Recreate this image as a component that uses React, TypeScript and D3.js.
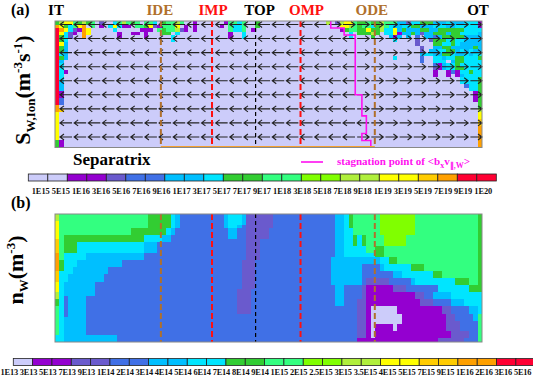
import React from "react";
import * as d3 from "d3";

// colour levels shared by both panels (index = level)
const palette = [
  "#ccccfa", "#9400d0", "#6a5acd", "#4070e6", "#00bfff", "#00e5ff", "#32cd32",
  "#33ff80", "#80ff00", "#b0ef3c", "#ffff00", "#ffcc00", "#ffa000", "#ff0033",
];

const barLevelsA = [0, 0, 1, 1, 2, 3, 3, 4, 4, 5, 6, 6, 7, 7, 8, 8, 9, 9, 10, 10, 11, 12, 13, 13];
const barLabelsA = [
  "1E15", "5E15", "1E16", "3E16", "5E16", "7E16", "9E16", "1E17", "3E17", "5E17", "7E17", "9E17",
  "1E18", "3E18", "5E18", "7E18", "9E18", "1E19", "3E19", "5E19", "7E19", "9E19", "1E20",
];
const barLevelsB = [0, 1, 1, 2, 2, 3, 3, 4, 4, 5, 5, 6, 6, 7, 7, 8, 8, 9, 9, 10, 10, 11, 11, 12, 12, 13, 13];
const barLabelsB = [
  "1E13", "3E13", "5E13", "7E13", "9E13", "1E14", "2E14", "3E14", "4E14", "5E14", "6E14", "7E14",
  "8E14", "9E14", "1E15", "2E15", "2.5E15", "3E15", "3.5E15", "4E15", "5E15", "7E15", "9E15",
  "1E16", "2E16", "3E16", "5E16",
];

// poloidal positions (cell index along the 96-cell grid)
const headers = [
  { name: "IT", col: 0, color: "#000" },
  { name: "IDE", col: 23.8, color: "#b0702c" },
  { name: "IMP", col: 35.3, color: "#ff1010" },
  { name: "TOP", col: 45.1, color: "#000" },
  { name: "OMP", col: 55.2, color: "#ff1010" },
  { name: "ODE", col: 71.9, color: "#b0702c" },
  { name: "OT", col: 96, color: "#000" },
];
const markerLines = ["IDE", "IMP", "TOP", "OMP", "ODE"];

// radial row -> cell where <b_x v_par,W> changes sign
const stagnationCol = [
  62, 62, 65, 65, 67.5, 67.5, 67.5, 67.5, 67.5, 67.5, 67.5, 67.5, 67.5, 67.5, 67.5, 67.5, 67.5,
  67.5, 67.5, 67.5, 67.5, 69, 69, 69, 69, 69, 69, 70, 70, 70, 70, 70, 69, 69, 71, 71,
];

// ionisation source level per cell, rows top -> bottom (hex digit = level, "v*n" = run)
const sourceRows = [
  "69aa76967020 057976707750 677970010000 001775700600 0*12 09029aa76676 697774425566 644454445551",
  "ca657ac07010 5a5110776a21 777a01010000 010755700600 0*12 0000aa976775 697544556644 455544555551",
  "dca521ca0000 050000011107 677921010000 000755701000 0*12 0000167766a6 6955a4644466 446666665555",
  "da5210ca0000 001001101000 660500000000 000100500000 0*12 000000506669 6055a1446424 466646655554",
  "d65200c00000 001000001000 005000000000 000100500000 0*12 000000500006 000414040304 434666664444",
  "d65000000000 0*12 005000000000 0*36 000050000200 266656554444",
  "da4000000000 0*60 000000000200 066556544444",
  "d64000000000 0*60 000000000020 044664444464",
  "d64000000000 0*60 000000000020 445566454544",
  "d54000000000 0*60 000000000045 544665445455",
  "d64000000000 0*60 000050000030 055455665556",
  "d40000000000 0*60 000000000030 055504665555",
  "d50000000000 0*72 031455655555",
  "d50000000000 0*72 021455665555",
  "d51000000000 0*72 010013155655",
  "d50000000000 0*72 010010145555",
  "d50000000000 0*72 000000055556",
  "d40000000000 0*72 000000055556",
  "d40000000000 0*72 000000003556",
  "d40000000000 0*72 000000000556",
  "d10000000000 0*72 000000000016",
  "d10000000000 0*72 000000000016",
  "d30000000000 0*72 000000000016",
  "d30000000000 0*72 000000000006",
  "c 0*94 6",
  "cb 0*93 9",
  "a 0*94 a",
  "a 0*94 a",
  "a 0*94 b",
  "a 0*94 b",
  "a 0*94 c",
  "a 0*94 c",
  "a 0*94 c",
  "a 0*94 c",
  "61 0*93 c",
  "61 0*93 c",
];

// W density level per cell
const densityRows = [
  "9 7*20 6*5 5 4 3*10 4 5*3 4 2*6 3*14 4*2 5 6 7*6 8*8 7*14 6",
  "9 7*20 6*5 5 4 3*10 4 5*3 4 2*6 3*14 4*2 5 6 7*6 8*8 7*14 6",
  "a 7*20 6*5 5 4 3*10 4 5*3 4 2*6 3*14 4*2 5 6 7*6 8*8 7*14 6",
  "a 7*20 6*5 5 4 3*10 4 5*2 4 3 2*6 3*14 4*2 5 6 7*6 8*8 7*14 6",
  "a 7*16 6*8 5 4 3*12 4*2 3*2 2*5 3*15 4*2 5*2 7*6 8*8 7*14 6",
  "a 7*16 6*8 5 4 3*12 4*2 3*2 2*5 3*15 4*2 5*2 7*6 8*8 7*14 6",
  "a 7 6*18 5*4 4*2 3*13 4*2 3*2 2*5 3*15 4*2 5*2 6 5 6 7*4 8*5 7*16 6",
  "b 7 6*18 5*4 4*2 3*17 2*3 3*17 4*2 5*2 6 5 6 7*4 8*5 7*16 6",
  "b 7 6*3 5*15 4*3 3*20 2*3 3*17 4*2 5*2 6 5 6 7*4 8*5 7*16 6",
  "b 7 6*3 5*15 4*3 3*20 2*3 3*17 4*2 5*5 7*2 6*2 7*21 6",
  "b 7 6*3 5*15 4*3 3*20 2*3 3*17 4*2 5*5 7*2 6*2 7*21 6",
  "c 7 5*5 4*13 3*23 2*3 3*17 4*2 5*7 6*2 7*21 6",
  "c 7 5*5 4*13 3*23 2*3 3*16 4*11 5*2 6*2 7*18 6",
  "c 6 5*3 4*10 3*27 2*3 3*17 4*11 5*2 6*2 7*18 6",
  "c 6 5*3 4*10 3*27 2*3 3*17 4*7 3*4 4 5*6 6*3 7*12 6",
  "c 6 5*2 4*8 3*30 2*3 3*17 4*7 3*4 4 5*6 6*3 7*12 6",
  "b 5 5*2 4*8 3*30 2*3 3*17 4*7 3*7 4*2 5*7 6*2 7*8 6",
  "b 5 5 4*8 3*31 2*3 3*17 4*7 3*7 4*2 5*7 6*2 7*8 6",
  "b 5 5 4*8 3*31 2*3 3*17 4*7 3 2*5 3*5 4 5*9 6*3 7*2 6",
  "a 5 4*7 3*33 2*3 3*17 4*7 3 2*5 3*5 4 5*9 6*3 7*2 6",
  "a 5 4*7 3*33 2*3 3*17 3 4*2 3*4 2 1*6 2*3 3*7 5*7 6*3",
  "a 5 4*7 3*32 2*3 3*18 3 4*2 3*4 2 1*6 2*3 3*7 5*7 6*3",
  "9 5 4*7 3*32 2*3 3*18 3 4*2 3*4 2 1*11 2*2 3*2 4*4 5*7",
  "9 5 3 4*4 3*34 2*3 3*18 3 4*2 3*4 2 1*11 2*2 3*2 4*4 5*7",
  "6 5 3 4*4 3*34 2*3 3*18 3 4*2 3*3 2*2 1*12 2*3 3*4 4*3 5*4",
  "6 5 3 4*4 3*34 2*3 3*18 3 4*2 3*3 2*2 1*12 2*3 3*4 4*3 5*4",
  "7 5 3 4*4 3*34 2*3 3*18 3*6 2*2 1 0*6 1*10 2*2 3*4 4*2 5",
  "7 5 3 4*4 3*34 2*3 3*18 3*6 2*2 1 0*6 1*10 2*2 3*4 4*2 5",
  "7 5 3 4*4 3*55 3*6 2*2 1 0*7 1*10 2*2 3*4 4 7",
  "7 5 4*5 3*55 3*6 2*2 1 0*7 1*10 2*2 3*4 4 7",
  "7 5 4*5 3*55 3*6 2*2 1 0*7 1*10 2*3 3*4 7",
  "7 5 4*5 3*55 3*6 2*2 1 0 1*4 0 1*11 2*3 3*4 7",
  "7 5 4*5 3*55 3*6 2*2 1 0 1*4 0 1*11 2*3 3*4 7",
  "7 5 4*5 3*55 3*6 2*2 1 0 1*17 2*4 3*2 7",
  "5 5 4*12 3*48 3*6 2*2 1 0 1*17 2*4 3*2 7",
  "5 5 4*12 3*48 3*6 1*18 2*6 3*3 7",
];

const NC = 96;
const NR = 36;
const serif = "'Liberation Serif', 'Times New Roman', serif";

function decodeRow(s: string, fill: number): number[] {
  const out: number[] = [];
  s.trim().split(/\s+/).forEach((tok) => {
    const [v, n] = tok.split("*");
    if (n) for (let i = 0; i < +n; i++) out.push(parseInt(v, 16));
    else for (const ch of v) out.push(parseInt(ch, 16));
  });
  while (out.length < NC) out.push(fill);
  return out.slice(0, NC);
}

function runs(row: number[]) {
  const res: { v: number; start: number; len: number }[] = [];
  row.forEach((v, i) => {
    const last = res[res.length - 1];
    if (last && last.v === v) last.len++;
    else res.push({ v, start: i, len: 1 });
  });
  return res;
}

function Heatmap({ rows, fill, x, y }: any) {
  return (
    <g shapeRendering="crispEdges">
      {rows.map((s: string, r: number) =>
        runs(decodeRow(s, fill)).map((run, k) => (
          <rect
            key={r + "-" + k}
            x={x(run.start)}
            y={y(r)}
            width={x(run.start + run.len) - x(run.start) + 0.4}
            height={y(r + 1) - y(r) + 0.4}
            fill={palette[run.v]}
          />
        ))
      )}
    </g>
  );
}

function Markers({ x, y }: any) {
  return (
    <g>
      {headers
        .filter((h) => markerLines.includes(h.name))
        .map((h) => (
          <line
            key={h.name}
            x1={x(h.col)}
            x2={x(h.col)}
            y1={y(0)}
            y2={y(NR)}
            stroke={h.color}
            strokeWidth={h.name === "TOP" ? 1.2 : 2}
            strokeDasharray={h.name === "TOP" ? "4,3" : "6,3"}
          />
        ))}
    </g>
  );
}

function Colorbar({ levels, labels, x0, x1, y0, h, tx0, tx1, ty }: any) {
  const band = d3.scaleBand<number>().domain(d3.range(levels.length)).range([x0, x1]);
  return (
    <g>
      {levels.map((lv: number, i: number) => (
        <rect key={i} x={band(i)} y={y0} width={band.bandwidth()} height={h}
          fill={palette[lv]} stroke="#222" strokeWidth={0.8} />
      ))}
      <text x={tx0} y={ty} textLength={tx1 - tx0} lengthAdjust="spacing"
        fontFamily={serif} fontWeight="bold" fontSize={8.4} fill="#111">
        {labels.join(" ")}
      </text>
    </g>
  );
}

export default function App() {
  const W = 533, H = 377;
  const x = d3.scaleLinear().domain([0, NC]).range([55, 482]);
  const yA = d3.scaleLinear().domain([0, NR]).range([21, 147.5]);
  const yB = d3.scaleLinear().domain([0, NR]).range([214, 342]);
  const arrowX = d3.scaleLinear().domain([0, 30]).range([60, 60 + 14.15 * 30]);
  const arrowRows = d3.range(9).map((k) => 4 * k + 1);
  const arrowLen = 12;

  const stagLine = d3
    .line<[number, number]>()
    .x((d) => x(d[0]))
    .y((d) => yA(d[1]))(stagnationCol.flatMap((c, r) => [[c, r], [c, r + 1]] as [number, number][]));

  const headerDx: Record<string, number> = { IT: 1, IDE: -1, IMP: 1, TOP: 4, OMP: 6, ODE: -3, OT: -4 };
  const ide = headers.find((h) => h.name === "IDE")!.col;
  const ode = headers.find((h) => h.name === "ODE")!.col;

  return (
    <div style={{ position: "absolute", left: 0, top: 0 }}>
      <svg width={W} height={H} style={{ display: "block", background: "#fff" }}>
        {/* panel (a) */}
        <text x={11} y={15} fontFamily={serif} fontWeight="bold" fontSize={16}>(a)</text>
        {headers.map((h) => (
          <text key={h.name} x={x(h.col) + headerDx[h.name]} y={15} textAnchor="middle"
            fontFamily={serif} fontWeight="bold" fontSize={15} fill={h.color}>{h.name}</text>
        ))}
        <Heatmap rows={sourceRows} fill={0} x={x} y={yA} />
        <g stroke="#222" strokeWidth={1.1} fill="none">
          {arrowRows.map((r) =>
            d3.range(30).map((j) => {
              const xs = arrowX(j);
              const xe = Math.min(xs + arrowLen, x(NC));
              const right = (xs + xe) / 2 > x(stagnationCol[r]);
              const yy = yA(r);
              const tip = right ? xe : xs;
              const s = right ? -1 : 1;
              return (
                <path key={r + "-" + j}
                  d={`M${xs},${yy}L${xe},${yy}M${tip + 4 * s},${yy - 3}L${tip},${yy}L${tip + 4 * s},${yy + 3}`} />
              );
            })
          )}
        </g>
        <Markers x={x} y={yA} />
        <path d={stagLine!} stroke="#ff10f0" strokeWidth={1.6} fill="none" />
        <line x1={x(ide)} x2={x(ode)} y1={yA(NR) - 0.5} y2={yA(NR) - 0.5} stroke="#f5a030" strokeWidth={1.8} />
        <rect x={x(0)} y={yA(0)} width={x(NC) - x(0)} height={yA(NR) - yA(0)} fill="none" stroke="#888" strokeWidth={1} />
        <text transform={`translate(30,90) rotate(-90)`} textAnchor="middle" fontFamily={serif}
          fontWeight="bold" fontSize={22}>
          S<tspan dy={5} fontSize={13}>W,Ion</tspan><tspan dy={-5}>(m</tspan>
          <tspan dy={-8} fontSize={13}>-3</tspan><tspan dy={8}>s</tspan>
          <tspan dy={-8} fontSize={13}>-1</tspan><tspan dy={8}>)</tspan>
        </text>
        <text x={73} y={165} fontFamily={serif} fontWeight="bold" fontSize={17}>Separatrix</text>
        <line x1={301} x2={323} y1={162} y2={162} stroke="#ff10f0" strokeWidth={1.6} />
        <text x={337} y={165} fontFamily={serif} fontWeight="bold" fontSize={11} fill="#ff10f0">
          stagnation point of &lt;b<tspan dy={3} fontSize={8}>x</tspan>
          <tspan dy={-3}>v</tspan><tspan dy={3} fontSize={8}>∥,W</tspan><tspan dy={-3}>&gt;</tspan>
        </text>
        <Colorbar levels={barLevelsA} labels={barLabelsA} x0={28.3} x1={496.3} y0={174} h={7}
          tx0={31.7} tx1={492.3} ty={193.5} />

        {/* panel (b) */}
        <text x={11} y={208} fontFamily={serif} fontWeight="bold" fontSize={16}>(b)</text>
        <Heatmap rows={densityRows} fill={3} x={x} y={yB} />
        <Markers x={x} y={yB} />
        <rect x={x(0)} y={yB(0)} width={x(NC) - x(0)} height={yB(NR) - yB(0)} fill="none" stroke="#888" strokeWidth={1} />
        <text transform={`translate(23,270) rotate(-90)`} textAnchor="middle" fontFamily={serif}
          fontWeight="bold" fontSize={22}>
          n<tspan dy={5} fontSize={13}>W</tspan><tspan dy={-5}>(m</tspan>
          <tspan dy={-8} fontSize={13}>-3</tspan><tspan dy={8}>)</tspan>
        </text>
        <Colorbar levels={barLevelsB} labels={barLabelsB} x0={13.3} x1={535.2} y0={358.5} h={7}
          tx0={0.5} tx1={531.5} ty={375} />
      </svg>
    </div>
  );
}
